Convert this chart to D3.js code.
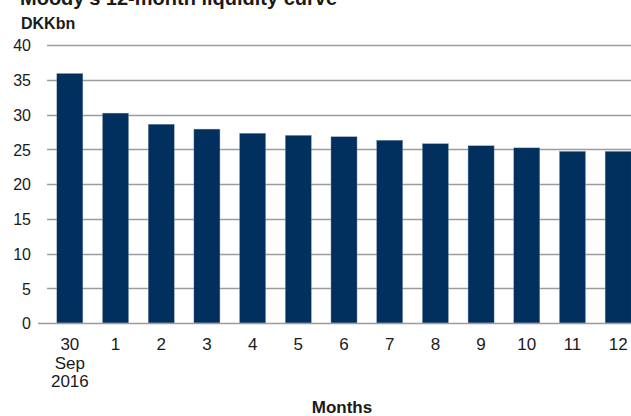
<!DOCTYPE html>
<html>
<head>
<meta charset="utf-8">
<script src="https://cdn.jsdelivr.net/npm/d3@7/dist/d3.min.js"></script>
<style>
  html, body { margin: 0; padding: 0; background: #fff; }
  svg { display: block; }
  text { font-family: "Liberation Sans", Arial, sans-serif; fill: #1a1a1a; }
</style>
</head>
<body>
<svg id="chart" width="631" height="416"></svg>
<script>
// Liquidity (DKK bn) at 30 Sep 2016 and over the following 12 months
const categories = ["30\nSep\n2016", "1", "2", "3", "4", "5", "6", "7", "8", "9", "10", "11", "12"];
const liquidity = [35.9, 30.2, 28.6, 27.9, 27.3, 27.0, 26.8, 26.3, 25.8, 25.5, 25.2, 24.7, 24.7];
const yTicks = [0, 5, 10, 15, 20, 25, 30, 35, 40];

const title = "Moody's 12-month liquidity curve";
const unitLabel = "DKKbn";
const xTitle = "Months";

const svg = d3.select("#chart");
const W = 631, H = 416;
const plot = { left: 47, right: 641, top: 45, bottom: 323 };

const x = d3.scaleBand()
  .domain(categories)
  .range([plot.left, plot.right])
  .paddingInner(0.43)
  .paddingOuter(0.215);

const y = d3.scaleLinear()
  .domain([0, 40])
  .range([plot.bottom, plot.top]);

// Title (runs off the top edge) and unit label
svg.append("text")
  .attr("x", 20).attr("y", 5)
  .style("font-size", "20px").style("font-weight", "bold")
  .text(title);

svg.append("text")
  .attr("x", 21).attr("y", 28.5)
  .style("font-size", "16px").style("font-weight", "bold")
  .text(unitLabel);

// Horizontal gridlines
svg.append("g")
  .selectAll("line")
  .data(yTicks.filter(d => d > 0))
  .join("line")
  .attr("x1", plot.left).attr("x2", W)
  .attr("y1", d => Math.round(y(d)) + 0.5).attr("y2", d => Math.round(y(d)) + 0.5)
  .attr("stroke", "#9c9c9c").attr("stroke-width", 1.4);

// Y axis labels
const yAxis = svg.append("g")
  .attr("transform", `translate(31,0)`)
  .call(d3.axisLeft(y).tickValues(yTicks).tickSize(0).tickPadding(0));
yAxis.select(".domain").remove();
yAxis.selectAll("text")
  .style("font-size", "16px")
  .style("font-family", "'Liberation Sans', Arial, sans-serif")
  .attr("fill", "#1a1a1a")
  .attr("dy", "0.36em");

// Bars
svg.append("g")
  .selectAll("rect")
  .data(liquidity)
  .join("rect")
  .attr("x", (d, i) => x(categories[i]))
  .attr("width", x.bandwidth())
  .attr("y", d => y(d))
  .attr("height", d => y(0) - y(d))
  .attr("fill", "#01305f")
  .attr("stroke", "#8aa0b8")
  .attr("stroke-width", 0.4);

// Baseline axis
svg.append("line")
  .attr("x1", 38).attr("x2", W)
  .attr("y1", y(0) + 0.5).attr("y2", y(0) + 0.5)
  .attr("stroke", "#9c9c9c").attr("stroke-width", 1.4);

// Category labels (multi-line for the first)
const xAxis = svg.append("g")
  .attr("transform", `translate(0,${plot.bottom})`)
  .call(d3.axisBottom(x).tickSize(0).tickPadding(0));
xAxis.select(".domain").remove();
xAxis.selectAll("text").each(function(d) {
  const t = d3.select(this);
  t.text(null)
    .attr("y", 0).attr("dy", null)
    .style("font-size", "17px")
    .style("font-family", "'Liberation Sans', Arial, sans-serif")
    .attr("fill", "#1a1a1a");
  d.split("\n").forEach((line, k) => {
    t.append("tspan").attr("x", 0).attr("y", 27 + k * 18.5).text(line);
  });
});

// X axis title
svg.append("text")
  .attr("x", 342).attr("y", 413)
  .attr("text-anchor", "middle")
  .style("font-size", "17px").style("font-weight", "bold")
  .text(xTitle);
</script>
</body>
</html>
